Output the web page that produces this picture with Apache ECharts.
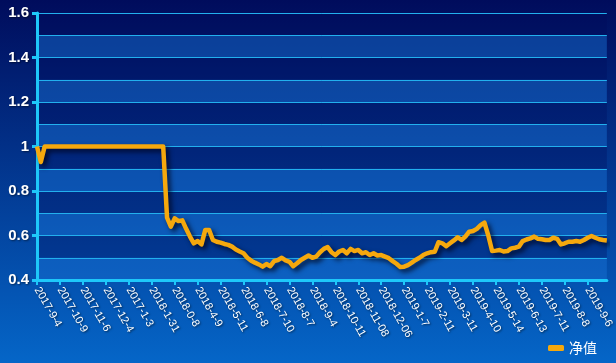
<!DOCTYPE html>
<html>
<head>
<meta charset="utf-8">
<script src="https://cdn.jsdelivr.net/npm/echarts@6/dist/echarts.min.js"></script>
<style>
html,body{margin:0;padding:0;}
#c{width:616px;height:363px;}
</style>
</head>
<body>
<div id="c"></div>
<script>
// Tick labels shown on the x axis (one every 6 data points)
var tickLabels = ['2017-9-4','2017-10-9','2017-11-6','2017-12-4','2017-1-3','2018-1-31','2018-0-8','2018-4-9','2018-5-11','2018-6-8','2018-7-10','2018-8-7','2018-9-4','2018-10-11','2018-11-08','2018-12-06','2019-1-7','2019-2-11','2019-3-11','2019-4-10','2019-5-14','2019-6-13','2019-7-11','2019-8-8','2019-9-6'];
var pointsPerTick = 6;

// Net value series (净值)
var netValue = [
1.0,0.93,1.0,1.0,1.0,1.0,1.0,1.0,1.0,1.0,
1.0,1.0,1.0,1.0,1.0,1.0,1.0,1.0,1.0,1.0,
1.0,1.0,1.0,1.0,1.0,1.0,1.0,1.0,1.0,1.0,
1.0,1.0,1.0,1.0,0.68,0.64,0.677,0.665,0.668,0.63,
0.595,0.565,0.575,0.56,0.625,0.625,0.58,0.572,0.568,0.562,
0.558,0.55,0.537,0.528,0.52,0.50,0.487,0.478,0.47,0.46,
0.472,0.462,0.485,0.49,0.5,0.488,0.482,0.462,0.475,0.49,
0.5,0.51,0.5,0.505,0.525,0.54,0.548,0.525,0.512,0.528,
0.535,0.52,0.54,0.53,0.535,0.52,0.525,0.512,0.52,0.51,
0.512,0.505,0.498,0.485,0.473,0.458,0.46,0.467,0.478,0.49,
0.5,0.512,0.52,0.525,0.527,0.57,0.565,0.552,0.565,0.578,
0.592,0.58,0.595,0.617,0.62,0.63,0.647,0.658,0.6,0.53,
0.532,0.535,0.528,0.53,0.542,0.545,0.55,0.575,0.582,0.587,
0.595,0.585,0.583,0.58,0.58,0.59,0.585,0.56,0.565,0.572,
0.572,0.575,0.572,0.58,0.59,0.598,0.59,0.583,0.58,0.578
];

var yMin = 0.4, yMax = 1.6;

var categories = netValue.map(function(v, i){
  if (i % pointsPerTick === 0 && tickLabels[i / pointsPerTick] !== undefined) return tickLabels[i / pointsPerTick];
  return '';
});

var chart = echarts.init(document.getElementById('c'));
chart.setOption({
  animation: false,
  backgroundColor: {
    type: 'linear', x: 0, y: 0, x2: 0, y2: 1,
    colorStops: [{offset: 0, color: '#000c5c'}, {offset: 1, color: '#0566c8'}]
  },
  grid: {left: 37, right: 7, top: 13, bottom: 83},
  legend: {
    right: 14, bottom: 3,
    icon: 'roundRect', itemWidth: 16, itemHeight: 6,
    textStyle: {color: '#ffffff', fontSize: 14, fontFamily: 'Noto Sans CJK SC'},
    data: ['净值']
  },
  xAxis: {
    type: 'category',
    boundaryGap: false,
    data: categories,
    axisLine: {lineStyle: {color: '#1ec8fa', width: 3}},
    axisTick: {show: true, interval: pointsPerTick - 1, length: 5, lineStyle: {color: '#1ec8fa', width: 2}},
    axisLabel: {
      interval: pointsPerTick - 1, rotate: -60, margin: 8,
      color: '#ffffff', fontSize: 11, fontFamily: 'Liberation Sans',
      textShadowColor: 'rgba(0,0,0,0.6)', textShadowBlur: 2, textShadowOffsetX: 1, textShadowOffsetY: 1
    },
    splitLine: {show: false}
  },
  yAxis: [{
    type: 'value', min: yMin, max: yMax, interval: 0.2,
    axisLine: {show: true, lineStyle: {color: '#1ec8fa', width: 3}},
    axisTick: {show: true, length: 5, lineStyle: {color: '#1ec8fa', width: 3}},
    axisLabel: {color: '#ffffff', fontSize: 15, fontWeight: 'bold', fontFamily: 'Liberation Sans', margin: 8,
      textShadowColor: 'rgba(0,0,0,0.5)', textShadowBlur: 2, textShadowOffsetX: 1, textShadowOffsetY: 1},
    splitLine: {show: false},
    z: 3
  }, {
    type: 'value', min: yMin, max: yMax, interval: 0.1,
    position: 'left',
    axisLine: {show: false}, axisTick: {show: false}, axisLabel: {show: false},
    splitLine: {show: true, lineStyle: {color: '#22b0ee', width: 1}},
    splitArea: {show: true, areaStyle: {color: ['rgba(25,115,215,0.45)', 'rgba(0,10,90,0.3)']}}
  }],
  series: [{
    name: '净值',
    type: 'line',
    data: netValue,
    yAxisIndex: 0,
    symbol: 'none',
    color: '#f5a80d',
    lineStyle: {color: '#f5a80d', width: 4.5, join: 'round', shadowColor: 'rgba(0,0,20,0.75)', shadowBlur: 5, shadowOffsetX: 3, shadowOffsetY: 3},
    z: 5
  }]
});
</script>
</body>
</html>
